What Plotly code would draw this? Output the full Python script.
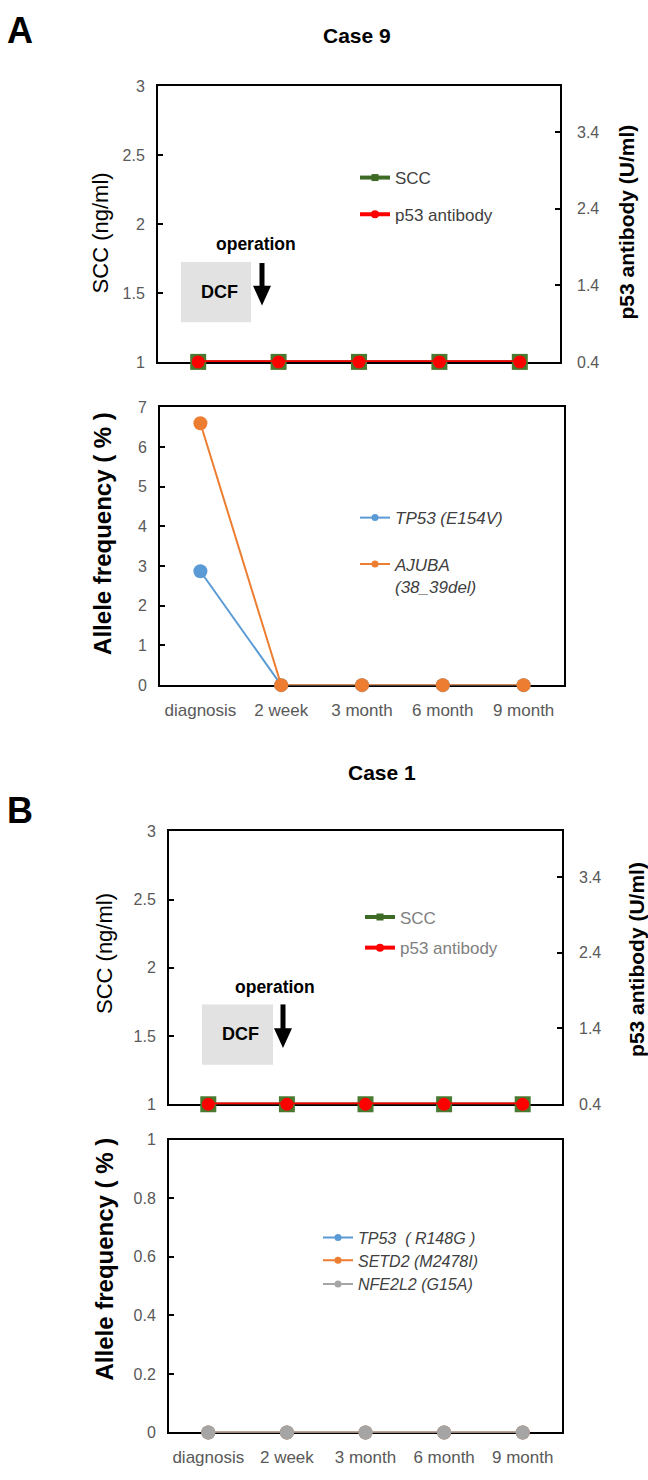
import plotly.graph_objects as go

W, H = 648, 1480

# ---------------- data ----------------
timepoints = ["diagnosis", "2 week", "3 month", "6 month", "9 month"]

case9_scc = [1, 1, 1, 1, 1]
case9_p53 = [0.4, 0.4, 0.4, 0.4, 0.4]
case9_tp53 = [2.87, 0, 0, 0, 0]
case9_ajuba = [6.6, 0, 0, 0, 0]

case1_scc = [1, 1, 1, 1, 1]
case1_p53 = [0.4, 0.4, 0.4, 0.4, 0.4]
case1_tp53 = [0, 0, 0, 0, 0]
case1_setd2 = [0, 0, 0, 0, 0]
case1_nfe2l2 = [0, 0, 0, 0, 0]

scc_ticks = [1, 1.5, 2, 2.5, 3]
p53_ticks = [0.4, 1.4, 2.4, 3.4]
af9_ticks = [0, 1, 2, 3, 4, 5, 6, 7]
af1_ticks = [0, 0.2, 0.4, 0.6, 0.8, 1]

# ---------------- style ----------------
FONT = "Liberation Sans, Arial, sans-serif"
GREEN = "#3E6B26"
RED = "#FF0000"
BLUE = "#5B9BD5"
ORANGE = "#ED7D31"
GRAY = "#A5A5A5"
TICKC = "#595959"


def px(x):
    return x / W


def py(y):
    return 1 - y / H


fig = go.Figure()


def legend_only(name, color, lw, symbol, msize, legend):
    fig.add_trace(go.Scatter(
        x=[None], y=[None], name=name, mode="lines+markers",
        line=dict(color=color, width=lw),
        marker=dict(color=color, size=msize, symbol=symbol),
        legend=legend, showlegend=True, hoverinfo="skip"))


# ----- Case 9 top: SCC & p53 antibody -----
fig.add_trace(go.Scatter(x=timepoints, y=case9_scc, mode="lines+markers",
                         line=dict(color=GREEN, width=3.5),
                         marker=dict(symbol="square", size=16, color="#4A7A30"),
                         xaxis="x", yaxis="y", showlegend=False, cliponaxis=False))
fig.add_trace(go.Scatter(x=timepoints, y=case9_p53, mode="lines+markers",
                         line=dict(color=RED, width=3.5),
                         marker=dict(symbol="circle", size=13, color=RED),
                         xaxis="x", yaxis="y2", showlegend=False, cliponaxis=False))

# ----- Case 9 bottom: allele frequency -----
fig.add_trace(go.Scatter(x=timepoints, y=case9_tp53, mode="lines+markers",
                         line=dict(color=BLUE, width=2),
                         marker=dict(size=14, color=BLUE),
                         xaxis="x2", yaxis="y3", showlegend=False, cliponaxis=False))
fig.add_trace(go.Scatter(x=timepoints, y=case9_ajuba, mode="lines+markers",
                         line=dict(color=ORANGE, width=2),
                         marker=dict(size=14, color=ORANGE),
                         xaxis="x2", yaxis="y3", showlegend=False, cliponaxis=False))

# ----- Case 1 top -----
fig.add_trace(go.Scatter(x=timepoints, y=case1_scc, mode="lines+markers",
                         line=dict(color=GREEN, width=3.5),
                         marker=dict(symbol="square", size=16, color="#4A7A30"),
                         xaxis="x3", yaxis="y4", showlegend=False, cliponaxis=False))
fig.add_trace(go.Scatter(x=timepoints, y=case1_p53, mode="lines+markers",
                         line=dict(color=RED, width=3.5),
                         marker=dict(symbol="circle", size=13, color=RED),
                         xaxis="x3", yaxis="y5", showlegend=False, cliponaxis=False))

# ----- Case 1 bottom -----
for vals, col in [(case1_tp53, BLUE), (case1_setd2, ORANGE), (case1_nfe2l2, GRAY)]:
    fig.add_trace(go.Scatter(x=timepoints, y=vals, mode="lines+markers",
                             line=dict(color=col, width=2),
                             marker=dict(size=14, color=col),
                             xaxis="x4", yaxis="y6", showlegend=False, cliponaxis=False))

# ----- legend entries -----
legend_only("SCC", GREEN, 4, "square", 7, "legend")
legend_only("p53 antibody", RED, 4, "circle", 8, "legend2")
legend_only("TP53 (E154V)", BLUE, 2, "circle", 7, "legend3")
legend_only("AJUBA<br>(38_39del)", ORANGE, 2, "circle", 7, "legend4")
legend_only("SCC", GREEN, 4, "square", 7, "legend5")
legend_only("p53 antibody", RED, 4, "circle", 8, "legend6")
legend_only("TP53  ( R148G )", BLUE, 2, "circle", 7, "legend7")
legend_only("SETD2 (M2478I)", ORANGE, 2, "circle", 7, "legend8")
legend_only("NFE2L2 (G15A)", GRAY, 2, "circle", 7, "legend9")


def leg(text_x, yc, color="#404040", size=17, italic=False):
    return dict(x=px(text_x - 40), y=py(yc), xanchor="left", yanchor="middle",
                bgcolor="rgba(0,0,0,0)", borderwidth=0, valign="top",
                font=dict(family=FONT, size=size, color=color,
                          style="italic" if italic else "normal"),
                itemclick=False, itemdoubleclick=False)


# ----- axes -----
def xax(x0, x1, anchor, labels):
    return dict(domain=[px(x0), px(x1)], anchor=anchor, type="category",
                range=[-0.5, 4.5], showline=True, mirror=True, linecolor="black",
                linewidth=2, ticks="", showgrid=False, zeroline=False,
                showticklabels=labels, layer="below traces",
                tickfont=dict(family=FONT, size=17, color=TICKC),
                ticklabelstandoff=8)


def yax(y0, y1, anchor, rng, ticks):
    return dict(domain=[py(y1), py(y0)], anchor=anchor, range=rng, tickvals=ticks,
                showline=True, mirror=True, linecolor="black", linewidth=2,
                ticks="inside", ticklen=5, tickwidth=1.5, tickcolor="black",
                showgrid=False, zeroline=False, layer="below traces",
                tickfont=dict(family=FONT, size=16, color=TICKC),
                ticklabelstandoff=8)


def yax_right(over, anchor):
    return dict(overlaying=over, anchor=anchor, side="right", range=[0.4, 4.0],
                tickvals=p53_ticks, ticktext=["%.1f" % v for v in p53_ticks],
                showline=False, ticks="inside", ticklen=5, tickwidth=1.5,
                tickcolor="black", showgrid=False, zeroline=False,
                tickfont=dict(family=FONT, size=16, color=TICKC),
                ticklabelstandoff=16)


layout = dict(
    width=W, height=H, margin=dict(l=0, r=0, t=0, b=0),
    paper_bgcolor="white", plot_bgcolor="rgba(0,0,0,0)",
    font=dict(family=FONT, color="black"),
    xaxis=xax(158, 560, "y", False),
    yaxis=yax(79, 358, "x", [1, 3], scc_ticks),
    yaxis2=yax_right("y", "x"),
    xaxis2=xax(160, 564, "y3", True),
    yaxis3=yax(404, 685, "x2", [0, 7], af9_ticks),
    xaxis3=xax(169, 562, "y4", False),
    yaxis4=yax(833, 1109, "x3", [1, 3], scc_ticks),
    yaxis5=yax_right("y4", "x3"),
    xaxis4=xax(169, 562, "y6", True),
    yaxis6=yax(1145, 1441, "x4", [0, 1], af1_ticks),
    legend=leg(395, 172, "#404040", 17),
    legend2=leg(395, 209, "#404040", 17),
    legend3=leg(395, 516, "#404040", 17, True),
    legend4=leg(395, 574, "#404040", 17, True),
    legend5=leg(400, 920, "#7F7F7F", 17),
    legend6=leg(400, 951, "#7F7F7F", 17),
    legend7=leg(358, 1244, "#404040", 16, True),
    legend8=leg(358, 1267, "#404040", 16, True),
    legend9=leg(358, 1291, "#404040", 16, True),
)
fig.update_layout(**layout)

# ----- annotations (titles, labels) -----
ann = []


def text(x, y, s, size, bold=False, angle=0, color="black"):
    ann.append(dict(x=px(x), y=py(y), xref="paper", yref="paper", text=s,
                    showarrow=False, xanchor="center", yanchor="middle",
                    textangle=angle,
                    font=dict(family=FONT, size=size, color=color,
                              weight="bold" if bold else "normal")))


text(20, 23, "A", 36, True)
text(357, 28, "Case 9", 21, True)
text(100, 228, "SCC (ng/ml)", 22, angle=-90)
text(627, 217, "p53 antibody (U/ml)", 21, True, angle=-90)
text(103, 532, "Allele frequency ( % )", 24, True, angle=-90)
text(256, 239, "operation", 17.5, True)
text(219, 287, "DCF", 18, True)

text(20, 812, "B", 36, True)
text(382, 773, "Case 1", 21, True)
text(104, 957, "SCC (ng/ml)", 22, angle=-90)
text(637, 963, "p53 antibody (U/ml)", 21, True, angle=-90)
text(104, 1266, "Allele frequency ( % )", 24, True, angle=-90)
text(275, 990, "operation", 17.5, True)
text(240, 1038, "DCF", 18, True)

fig.update_layout(annotations=ann)

# ----- shapes: DCF boxes and operation arrows -----
shapes = []


def box(x0, y0, x1, y1):
    shapes.append(dict(type="rect", xref="paper", yref="paper",
                       x0=px(x0), x1=px(x1), y0=py(y1), y1=py(y0),
                       fillcolor="#E2E2E2", line=dict(width=0), layer="below"))


def arrow(x, y0, y1):
    head = 20
    shapes.append(dict(type="line", xref="paper", yref="paper",
                       x0=px(x), x1=px(x), y0=py(y0), y1=py(y1 - head + 2),
                       line=dict(color="black", width=5)))
    path = "M %f %f L %f %f L %f %f Z" % (px(x - 9), py(y1 - head), px(x + 9), py(y1 - head),
                                         px(x), py(y1))
    shapes.append(dict(type="path", xref="paper", yref="paper", path=path,
                       fillcolor="black", line=dict(color="black", width=0)))


box(181, 257, 251, 318)
arrow(262, 258, 301)
box(202, 1008, 273, 1069)
arrow(283, 1008, 1052)

fig.update_layout(shapes=shapes)

fig.write_html("out.html", config={"displayModeBar": False},
               post_script="document.body.style.margin='0';")
